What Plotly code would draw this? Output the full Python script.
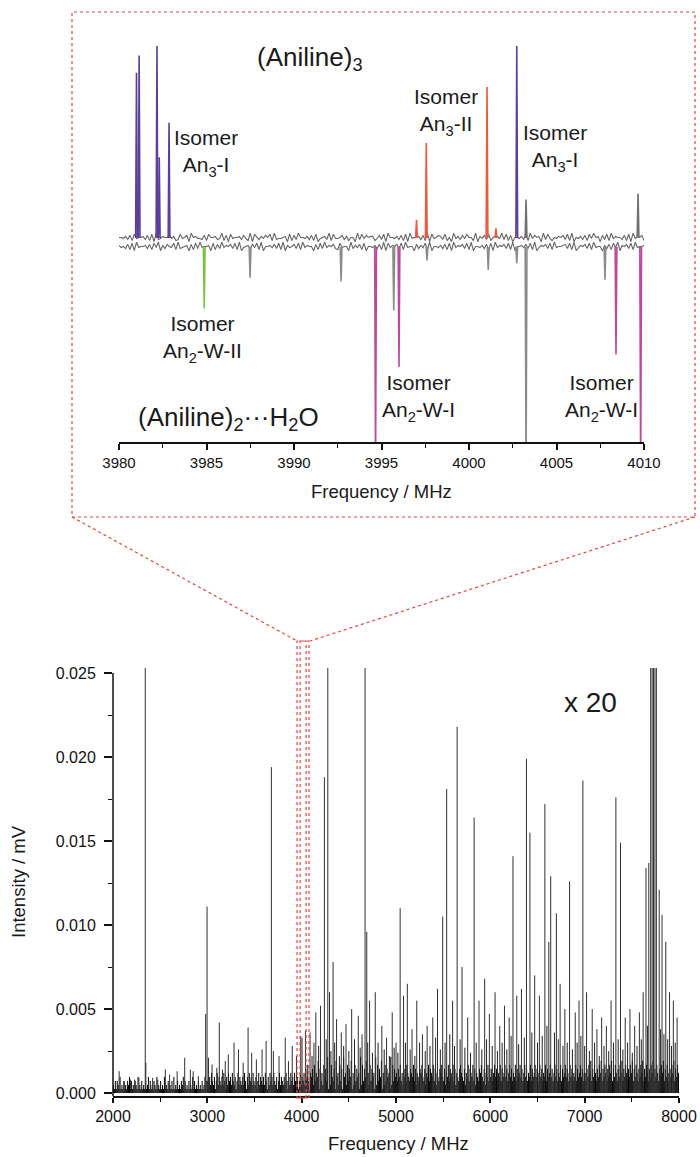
import plotly.graph_objects as go

W, H = 700, 1157
def px(x): return x / W
def py(y): return 1 - y / H

# ---------------- Main spectrum (2000-8000 MHz) ----------------
peak_freq = [2065, 2120, 2185, 2230, 2275, 2342, 2348, 2420, 2475, 2555, 2600, 2680, 2760, 2820, 2850, 2905, 2982, 2997, 3012, 3050,
             3100, 3127, 3160, 3190, 3222, 3283, 3330, 3380, 3432, 3470, 3520, 3580, 3623, 3679, 3700, 3760, 3826, 3860, 3900, 3945, 3990, 4004, 4040, 4089,
             4130, 4150, 4200, 4241, 4277, 4295, 4333, 4370, 4420, 4470, 4530, 4600, 4640, 4672, 4690, 4720, 4780, 4850, 4900, 4960, 5000,
             5044, 5080, 5120, 5170, 5220, 5280, 5330, 5390, 5440, 5495, 5537, 5600, 5648, 5700, 5760, 5828, 5880, 5940, 5990,
             6050, 6100, 6150, 6200, 6240, 6280, 6330, 6383, 6420, 6470, 6520, 6578, 6620, 6640, 6700, 6740, 6790, 6840, 6900, 6940, 6981,
             7020, 7080, 7130, 7180, 7230, 7280, 7331, 7380, 7430, 7480, 7530, 7580, 7620, 7650, 7680, 7700, 7715, 7730, 7745, 7760, 7790, 7820, 7860, 7900, 7940, 7980]
peak_int = [0.0013, 0.0007, 0.0008, 0.0008, 0.0009, 0.0253, 0.0018, 0.0009, 0.0008, 0.0014, 0.0011, 0.0013, 0.0021, 0.0014, 0.0013, 0.0010, 0.0047, 0.0111, 0.0021, 0.0017,
            0.0015, 0.0042, 0.0014, 0.0019, 0.0023, 0.0030, 0.0026, 0.0018, 0.0039, 0.0024, 0.0020, 0.0026, 0.0031, 0.0194, 0.0025, 0.0022, 0.0033, 0.0019, 0.0028, 0.0022, 0.0034, 0.0033, 0.0037, 0.0036,
            0.0030, 0.0048, 0.0052, 0.0188, 0.0253, 0.0060, 0.0078, 0.0044, 0.0036, 0.0041, 0.0050, 0.0046, 0.0035, 0.0253, 0.0096, 0.0055, 0.0060, 0.0040, 0.0033, 0.0048, 0.0030,
            0.0110, 0.0058, 0.0065, 0.0038, 0.0055, 0.0035, 0.0040, 0.0045, 0.0062, 0.0105, 0.0181, 0.0055, 0.0218, 0.0075, 0.0045, 0.0164, 0.0055, 0.0068, 0.0047,
            0.0060, 0.0040, 0.0052, 0.0045, 0.0141, 0.0058, 0.0062, 0.0199, 0.0155, 0.0070, 0.0058, 0.0172, 0.0090, 0.0129, 0.0107, 0.0065, 0.0050, 0.0126, 0.0048, 0.0055, 0.0186,
            0.0060, 0.0050, 0.0038, 0.0045, 0.0040, 0.0055, 0.0176, 0.0149, 0.0045, 0.0050, 0.0040, 0.0048, 0.0060, 0.0134, 0.0137, 0.0253, 0.0253, 0.0253, 0.0253, 0.0253, 0.0121, 0.0106, 0.0090, 0.0060, 0.0055, 0.0045]

minor_freq = [4110, 4180, 4260, 4310, 4350, 4400, 4445, 4500, 4560, 4620, 4700, 4750, 4810, 4875, 4930, 4980, 5020, 5100, 5150, 5200,
              5250, 5310, 5360, 5420, 5470, 5520, 5570, 5620, 5680, 5730, 5790, 5850, 5910, 5960, 6020, 6075, 6125, 6175, 6220, 6300,
              6360, 6440, 6500, 6550, 6600, 6680, 6720, 6770, 6815, 6870, 6920, 6960, 7000, 7050, 7105, 7155, 7205, 7255, 7305, 7355,
              7405, 7455, 7505, 7555, 7600, 7665, 7805, 7840, 7880, 7920, 7960]
minor_int = [0.0022, 0.0028, 0.0032, 0.0025, 0.0030, 0.0022, 0.0028, 0.0025, 0.0032, 0.0027, 0.0030, 0.0024, 0.0030, 0.0026, 0.0022, 0.0027, 0.0024, 0.0030, 0.0026, 0.0022,
             0.0030, 0.0025, 0.0028, 0.0033, 0.0026, 0.0030, 0.0035, 0.0028, 0.0032, 0.0027, 0.0024, 0.0030, 0.0026, 0.0032, 0.0028, 0.0025, 0.0030, 0.0026, 0.0034, 0.0029,
             0.0033, 0.0036, 0.0030, 0.0034, 0.0040, 0.0036, 0.0032, 0.0028, 0.0030, 0.0026, 0.0030, 0.0034, 0.0028, 0.0025, 0.0030, 0.0022, 0.0028, 0.0025, 0.0030, 0.0032,
             0.0026, 0.0030, 0.0024, 0.0028, 0.0032, 0.0040, 0.0038, 0.0035, 0.0032, 0.0028, 0.0030]

# dense floor of weak lines, one digit per 10 MHz bin (digit x floor_unit mV)
floor_2000 = "2131321412131213241312132141213121312413121321412131214121312131412131213241312131214131213121312413"
floor_3000 = "3242532413524324253142534253241352432425314253425324135243242531425342532413524324253142534253241352"
floor_4000 = "4352647315462735481635274639152743618452736194527364815273645192736481527364519273648152736451927364"
floor_5000 = "5364735246375436547362543657436254736547362543657436254736547362543675436254736547362543657436254736"
floor_6000 = "4635746354736457463574635473645746357463547364574635746354736457463574635473645746357463547364574635"
floor_7000 = "5364758364753647583647536475836475364758364753647583647536475836475364758364753647583647536475836475"
floor_unit = 0.00024

# ---------------- Inset (3980-4010 MHz) ----------------
noise_upper = ("5546372845563728193465574623845719564437285563492718455637429185364758293445618273955463728145639284"
               "4573625519384756624738195546372819455637291845763825194637485529164738256649382715546382947561938425"
               "46573829154637284956173829465537281946572")
noise_lower = ("6453728194556372849163754829345617283945561827394657382914563748291556473829164573829465517283946573"
               "2845519364728155463729184657382945517364829155463728194657382915546372819465738291556473829146573829"
               "45567382914657382945516372849165738294556")
noise_unit = 0.0055
upper_base = 0.0
lower_base = -0.047

purple_freq = [3981.0, 3981.15, 3982.17, 3982.3, 3982.86, 4002.73]
purple_int = [0.86, 0.95, 1.0, 0.42, 0.60, 1.0]
orange_freq = [3997.0, 3997.56, 4001.03, 4001.54]
orange_int = [0.094, 0.495, 0.786, 0.05]
greyup_freq = [4003.26, 4009.66]
greyup_int = [0.20, 0.23]
green_freq = [3984.87]
green_int = [0.32]
magenta_freq = [3994.66, 3996.0, 4008.4, 4009.81]
magenta_int = [1.15, 0.625, 0.56, 1.15]
greydn_freq = [3987.49, 3992.69, 3995.7, 3997.6, 4001.1, 4002.73, 4003.26, 4007.77]
greydn_int = [0.16, 0.18, 0.33, 0.07, 0.12, 0.085, 1.15, 0.17]

# ---------------- Build figure ----------------
fig = go.Figure()

def sticks(fs, hs):
    xs, ys = [], []
    for f, h in zip(fs, hs):
        xs += [f, f, None]
        ys += [0, h, None]
    return xs, ys

fx, fy = [], []
for start, s in [(2000, floor_2000), (3000, floor_3000), (4000, floor_4000),
                 (5000, floor_5000), (6000, floor_6000), (7000, floor_7000)]:
    step = 1000.0 / len(s)
    for i, c in enumerate(s):
        fx += [start + step * i + step / 2] * 2 + [None]
        fy += [0, int(c) * floor_unit, None]
fig.add_trace(go.Scatter(x=fx, y=fy, mode="lines", line=dict(color="#000000", width=1),
                         xaxis="x", yaxis="y", hoverinfo="skip"))
mx, my = sticks(minor_freq, minor_int)
fig.add_trace(go.Scatter(x=mx, y=my, mode="lines", line=dict(color="#202020", width=1),
                         xaxis="x", yaxis="y", hoverinfo="skip"))
px_, py_ = sticks(peak_freq, peak_int)
fig.add_trace(go.Scatter(x=px_, y=py_, mode="lines", line=dict(color="#303030", width=1),
                         xaxis="x", yaxis="y", hoverinfo="skip"))

def noise_trace(s, base):
    n = len(s)
    xs = [3980 + 30.0 * i / (n - 1) for i in range(n)]
    ys = [base + (int(c) - 4.5) * noise_unit for c in s]
    return xs, ys

ux, uy = noise_trace(noise_upper, upper_base)
lx, ly = noise_trace(noise_lower, lower_base)
fig.add_trace(go.Scatter(x=ux, y=uy, mode="lines", line=dict(color="#666666", width=1.1),
                         xaxis="x2", yaxis="y2", hoverinfo="skip"))
fig.add_trace(go.Scatter(x=lx, y=ly, mode="lines", line=dict(color="#666666", width=1.1),
                         xaxis="x2", yaxis="y2", hoverinfo="skip"))

def peaks(fs, hs, base, sign):
    xs, ys = [], []
    hw = 0.05
    for f, h in zip(fs, hs):
        xs += [f - hw, f, f + hw, None]
        ys += [base, base + sign * h, base, None]
    return xs, ys

for fs, hs, base, sign, col in [
        (greyup_freq, greyup_int, upper_base, 1, "#707070"),
        (greydn_freq, greydn_int, lower_base, -1, "#8a8a8a"),
        (purple_freq, purple_int, upper_base, 1, "#5b3f9a"),
        (orange_freq, orange_int, upper_base, 1, "#ea5a3c"),
        (green_freq, green_int, lower_base, -1, "#7cc242"),
        (magenta_freq, magenta_int, lower_base, -1, "#bb4a9e")]:
    xs, ys = peaks(fs, hs, base, sign)
    fig.add_trace(go.Scatter(x=xs, y=ys, mode="lines", line=dict(color=col, width=1.6),
                             xaxis="x2", yaxis="y2", hoverinfo="skip"))

FONT = "Liberation Sans, Arial, sans-serif"
tickfont16 = dict(family=FONT, size=16, color="#111")
tickfont15 = dict(family=FONT, size=15, color="#111")

fig.update_layout(
    template="none",
    width=W, height=H, autosize=False,
    margin=dict(l=0, r=0, t=0, b=0, pad=0, autoexpand=False),
    paper_bgcolor="white", plot_bgcolor="white", showlegend=False,
    xaxis=dict(domain=[px(113), px(679)], range=[2000, 8000], anchor="y", automargin=False,
               showline=True, linecolor="#111", linewidth=1.5, showgrid=False, zeroline=False,
               ticks="outside", ticklen=5, tickwidth=1.5, tickcolor="#111",
               tickvals=[2000, 3000, 4000, 5000, 6000, 7000, 8000], tickfont=tickfont16,
               minor=dict(tickvals=[2500, 3500, 4500, 5500, 6500, 7500], ticks="outside", ticklen=4, tickwidth=1.2, tickcolor="#111", showgrid=False)),
    yaxis=dict(domain=[py(1096.4), py(668)], range=[-0.0002, 0.0253], anchor="x", automargin=False,
               showline=False, showgrid=False, zeroline=False,
               ticks="outside", ticklen=8, tickwidth=1.5, tickcolor="#111", ticklabelstandoff=5,
               tickvals=[0, 0.005, 0.01, 0.015, 0.02, 0.025],
               ticktext=["0.000", "0.005", "0.010", "0.015", "0.020", "0.025"], tickfont=tickfont16,
               minor=dict(tickvals=[0.0025, 0.0075, 0.0125, 0.0175, 0.0225], ticks="outside", ticklen=4, tickwidth=1.2, tickcolor="#111", showgrid=False)),
    xaxis2=dict(domain=[px(119), px(644)], range=[3980, 4010], anchor="y2", automargin=False,
                showline=True, linecolor="#111", linewidth=1.5, showgrid=False, zeroline=False,
                ticks="outside", ticklen=6, tickwidth=1.5, tickcolor="#111",
                tickvals=[3980, 3985, 3990, 3995, 4000, 4005, 4010], tickfont=tickfont15,
                minor=dict(tickvals=[3982.5, 3987.5, 3992.5, 3997.5, 4002.5, 4007.5], ticks="outside", ticklen=4, tickwidth=1.2, tickcolor="#111", showgrid=False)),
    yaxis2=dict(domain=[py(442), py(40)], range=[-1.0625, 1.031], anchor="x2", visible=False, automargin=False),
)

red = "#e2453c"
dot = dict(color=red, width=1.2, dash="dot")
shapes = [
    dict(type="line", xref="paper", yref="y", x0=px(113), x1=px(113), y0=-0.0002, y1=0.025,
         line=dict(color="#111", width=1.5)),
    dict(type="rect", xref="paper", yref="paper", x0=px(72), x1=px(695), y0=py(517), y1=py(12), line=dot),
    dict(type="line", xref="paper", yref="paper", x0=px(72), y0=py(517), x1=px(297), y1=py(641), line=dot),
    dict(type="line", xref="paper", yref="paper", x0=px(695), y0=py(517), x1=px(310), y1=py(641), line=dot),
    dict(type="rect", xref="x", yref="paper", x0=3951, x1=4078, y0=py(1098), y1=py(641), line=dot),
    dict(type="rect", xref="x", yref="paper", x0=3983, x1=4047, y0=py(1098), y1=py(641), line=dot),
]
fig.update_layout(shapes=shapes)

def ann(text, x, y, size, angle=0):
    return dict(text=text, x=px(x), y=py(y), xref="paper", yref="paper", showarrow=False,
                xanchor="center", yanchor="middle", align="center", textangle=angle,
                font=dict(family=FONT, size=size, color="#1a1a1a"))

annotations = [
    ann("(Aniline)<sub>3</sub>", 310, 59, 26),
    ann("Isomer<br>An<sub>3</sub>-I", 206, 153, 21),
    ann("Isomer<br>An<sub>3</sub>-II", 446, 112, 21),
    ann("Isomer<br>An<sub>3</sub>-I", 555, 148, 21),
    ann("Isomer<br>An<sub>2</sub>-W-II", 202, 339, 21),
    ann("(Aniline)<sub>2</sub>···H<sub>2</sub>O", 228, 418, 26),
    ann("Isomer<br>An<sub>2</sub>-W-I", 418, 398, 21),
    ann("Isomer<br>An<sub>2</sub>-W-I", 601, 398, 21),
    ann("Frequency / MHz", 381, 491, 18.5),
    ann("x 20", 590, 702, 28),
    ann("Frequency / MHz", 398, 1143, 18.5),
    ann("Intensity / mV", 18, 882, 18.5, angle=-90),
]
fig.update_layout(annotations=annotations)

fig.write_html("out.html", config={"displayModeBar": False},
               post_script="document.body.style.margin='0';document.body.style.padding='0';document.body.style.overflow='hidden';")
